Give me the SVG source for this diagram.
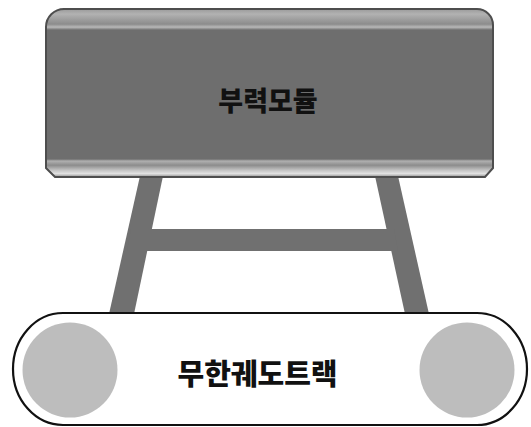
<svg xmlns="http://www.w3.org/2000/svg" width="531" height="427" viewBox="0 0 531 427">
  <style>
    .leg { fill: #707070; }
    .wheel { fill: #bdbdbd; }
    .label { font-family: "Noto Sans CJK KR", "Noto Sans", sans-serif; font-weight: 900; fill: #111; text-anchor: middle; dominant-baseline: central; }
  </style>
  <defs>
    <linearGradient id="panelShade" x1="0" y1="0" x2="0" y2="1">
      <stop offset="0" stop-color="#9a9a9a"/>
      <stop offset="0.03" stop-color="#b2b2b2"/>
      <stop offset="0.09" stop-color="#8c8c8c"/>
      <stop offset="0.108" stop-color="#b8b8b8"/>
      <stop offset="0.125" stop-color="#6e6e6e"/>
      <stop offset="0.893" stop-color="#6e6e6e"/>
      <stop offset="0.905" stop-color="#b0b0b0"/>
      <stop offset="0.93" stop-color="#8c8c8c"/>
      <stop offset="0.96" stop-color="#c4c4c4"/>
      <stop offset="0.98" stop-color="#e2e2e2"/>
      <stop offset="1" stop-color="#909090"/>
    </linearGradient>
  </defs>

  <!-- frame: legs and crossbar -->
  <g id="frame">
    <polygon class="leg" points="140,176 163,176 134,314 109,314"/>
    <polygon class="leg" points="375,176 398,176 429,314 405,314"/>
    <polygon class="leg" points="131,229 394,229 398,251 127,251"/>
  </g>

  <!-- buoyancy module -->
  <g id="buoyancy-module">
    <path d="M46,27 A18,18 0 0 1 64,9 H477 A16,16 0 0 1 493,25 V168 L485,177 H55 L46,168 Z" fill="url(#panelShade)" stroke="#4e4e4e" stroke-width="2"/>
    <text class="label" x="268" y="99" font-size="27">부력모듈</text>
  </g>

  <!-- crawler track -->
  <g id="crawler-track">
    <rect x="13" y="313" width="514" height="112" rx="50" ry="56" fill="#fff" stroke="#111" stroke-width="2.2"/>
    <circle class="wheel" cx="70" cy="370" r="47.5"/>
    <circle class="wheel" cx="467" cy="370" r="47.5"/>
    <text class="label" x="257.5" y="372" font-size="29">무한궤도트랙</text>
  </g>
</svg>
